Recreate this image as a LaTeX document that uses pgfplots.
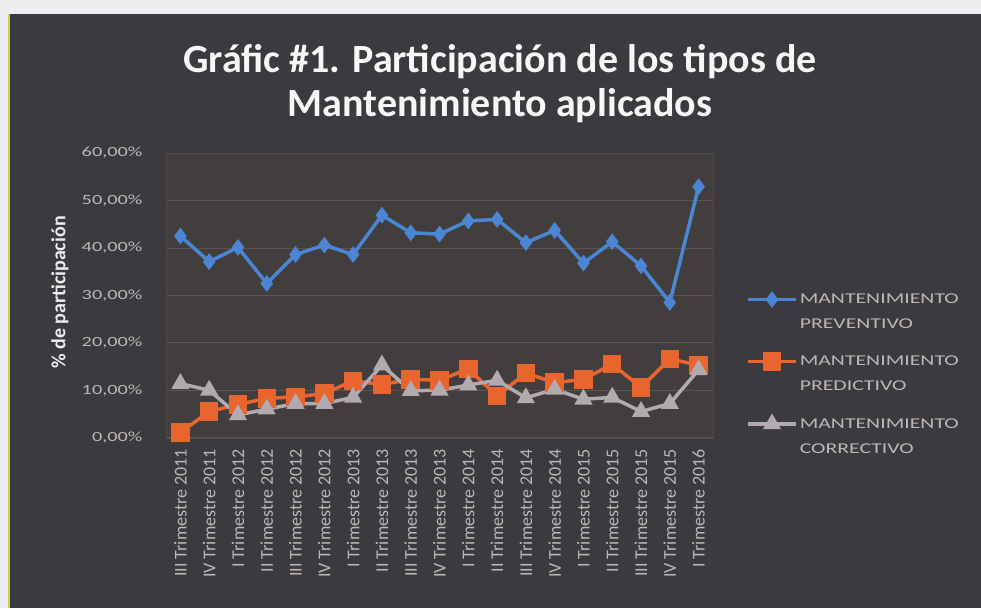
\documentclass[border=0pt]{standalone}
\usepackage{graphicx}
\usepackage{pgfplots}
\pgfplotsset{compat=1.18}
\usepackage{fontspec}
\setmainfont{Carlito}
\newcommand{\sx}[1]{\scalebox{1.45}[1]{#1}}
\definecolor{bgdark}{RGB}{59,58,62}
\definecolor{plotbg}{RGB}{67,62,62}
\definecolor{gridc}{RGB}{92,84,84}
\definecolor{bluec}{RGB}{74,134,212}
\definecolor{orangec}{RGB}{232,102,46}
\definecolor{grayc}{RGB}{178,170,176}
\definecolor{ticktxt}{RGB}{190,182,182}
\definecolor{strip}{RGB}{236,238,240}
\definecolor{yel}{RGB}{210,205,90}
\begin{document}
\begin{tikzpicture}[x=1pt,y=1pt]
\useasboundingbox (0,0) rectangle (981,608);
\fill[strip] (0,0) rectangle (981,608);
\fill[bgdark] (9,0) rectangle (981,594);
\draw[yel,line width=1.5pt] (9,0) -- (9,594);
\node[text=white!94!gray,align=center,font=\fontsize{40}{44}\selectfont\bfseries] at (500,524) {Gráfic \#1. Participación de los tipos de\\Mantenimiento aplicados};
\begin{axis}[
  at={(166pt,170.3pt)}, anchor=south west,
  scale only axis, width=547pt, height=284.7pt,
  xmin=-0.5, xmax=18.5, ymin=0, ymax=60,
  axis background/.style={fill=plotbg},
  axis line style={draw=gridc!60!plotbg},
  xtick={0,...,18},
  xticklabels={III Trimestre 2011,IV Trimestre 2011,I Trimestre 2012,II Trimestre 2012,III Trimestre 2012,IV Trimestre 2012,I Trimestre 2013,II Trimestre 2013,III Trimestre 2013,IV Trimestre 2013,I Trimestre 2014,II Trimestre 2014,III Trimestre 2014,IV Trimestre 2014,I Trimestre 2015,II Trimestre 2015,III Trimestre 2015,IV Trimestre 2015,I Trimestre 2016},
  x tick label style={rotate=90, anchor=east, text=ticktxt, font=\fontsize{18}{18}\selectfont, xshift=-8pt},
  ytick={0,10,...,60},
  yticklabels={\sx{0{,}00\%},\sx{10{,}00\%},\sx{20{,}00\%},\sx{30{,}00\%},\sx{40{,}00\%},\sx{50{,}00\%},\sx{60{,}00\%}},
  y tick label style={text=ticktxt, font=\fontsize{14}{14}\selectfont, xshift=-20pt},
  /pgf/number format/assume math mode=true,
  major tick length=0pt,
  ymajorgrids, grid style={gridc, line width=0.8pt},
  ylabel={\% de participación},
  ylabel style={at={(axis description cs:-0.194,0.51)}, anchor=center, text=white!85!gray, font=\fontsize{20}{20}\selectfont\bfseries},
  legend style={at={(axis description cs:1.055,0.52)}, anchor=north west, draw=none, fill=none, text=ticktxt, font=\fontsize{15}{25}\selectfont, nodes={align=left, inner sep=2pt}, row sep=22pt},
  legend cell align=left,
  legend image code/.code={\draw[mark repeat=2,mark phase=2] plot coordinates {(0pt,12.5pt)(24pt,12.5pt)(48pt,12.5pt)};},
]
\addplot[bluec, line width=3.5pt, mark=diamond*, mark size=5.5pt, mark options={solid}] coordinates {
(0,42.5)(1,37.1)(2,40.1)(3,32.5)(4,38.6)(5,40.6)(6,38.6)(7,46.9)(8,43.2)(9,42.9)(10,45.7)(11,46.0)(12,41.1)(13,43.7)(14,36.8)(15,41.3)(16,36.2)(17,28.5)(18,52.9)};
\addlegendentry{\sx{MANTENIMIENTO}\\\sx{PREVENTIVO}}
\addplot[orangec, line width=3.5pt, mark=square*, mark size=7.5pt, mark options={solid}] coordinates {
(0,1.1)(1,5.5)(2,7.0)(3,8.3)(4,8.6)(5,9.3)(6,12.0)(7,11.2)(8,12.3)(9,12.1)(10,14.5)(11,8.8)(12,13.6)(13,11.6)(14,12.3)(15,15.5)(16,10.6)(17,16.6)(18,15.3)};
\addlegendentry{\sx{MANTENIMIENTO}\\\sx{PREDICTIVO}}
\addplot[grayc, line width=3.5pt, mark=triangle*, mark size=7pt, mark options={solid}] coordinates {
(0,11.4)(1,10.0)(2,4.8)(3,6.0)(4,7.2)(5,7.2)(6,8.5)(7,15.3)(8,9.9)(9,10.0)(10,11.1)(11,12.1)(12,8.4)(13,10.2)(14,8.1)(15,8.5)(16,5.5)(17,7.2)(18,14.3)};
\addlegendentry{\sx{MANTENIMIENTO}\\\sx{CORRECTIVO}}
\end{axis}
\end{tikzpicture}
\end{document}
